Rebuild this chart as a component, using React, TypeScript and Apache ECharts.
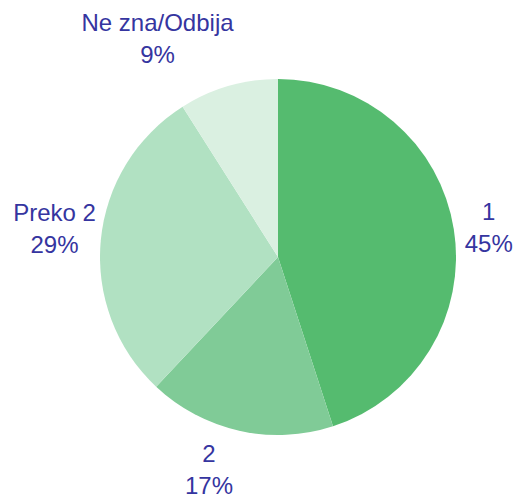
import React, { useEffect, useRef } from "react";
import * as echarts from "echarts";

const categories = ["1", "2", "Preko 2", "Ne zna/Odbija"];
const values = [45, 17, 29, 9];
const colors = ["#55bb6f", "#80cb97", "#b1e1c2", "#daf0e1"];
// label nudges (style only)
const labelDx = [-4, 1, 10, 13];
const labelDy = [0, 29, -11, -38];

export default function App() {
  const ref = useRef<HTMLDivElement>(null);
  useEffect(() => {
    document.body.style.margin = "0";
    const chart = echarts.init(ref.current!, undefined, { renderer: "svg" });
    chart.setOption({
      animation: false,
      backgroundColor: "#ffffff",
      series: [
        {
          type: "pie",
          center: [278, 257],
          radius: 178,
          startAngle: 90,
          clockwise: true,
          avoidLabelOverlap: false,
          data: categories.map((c, i) => ({
            name: c,
            value: values[i],
            itemStyle: { color: colors[i] },
          })),
          itemStyle: { borderWidth: 0 },
          label: {
            show: true,
            position: "outside",
            formatter: "{a|{b}}\n{a|{d}%}",
            rich: {
              a: {
                fontFamily: "Liberation Sans, Arial, sans-serif",
                fontSize: 24,
                color: "#3535a0",
                lineHeight: 32,
                align: "center",
              },
            },
          },
          labelLine: { show: false, length: 10, length2: 0 },
          labelLayout: (p: any) => ({
            dx: labelDx[p.dataIndex],
            dy: labelDy[p.dataIndex],
          }),
          emphasis: { disabled: true },
        },
      ],
    });
    return () => chart.dispose();
  }, []);
  return <div ref={ref} style={{ width: 514, height: 496 }} />;
}
